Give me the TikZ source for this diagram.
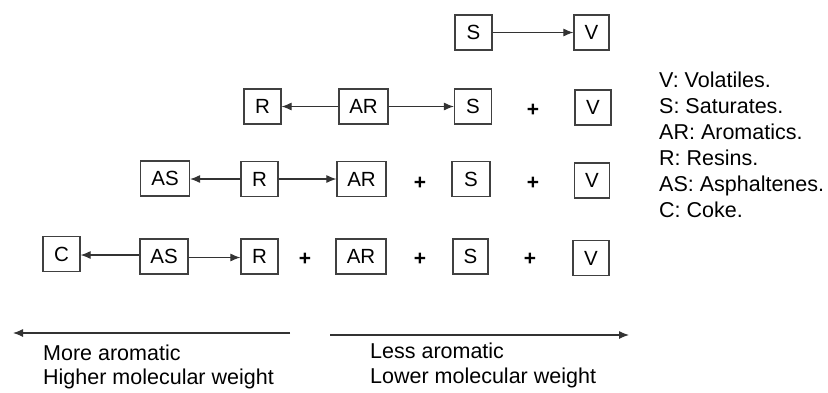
\documentclass[tikz,border=0pt]{standalone}
\usepackage{fontspec}
\setmainfont{Liberation Sans}
\usetikzlibrary{arrows.meta}
\begin{document}
\begin{tikzpicture}[x=1pt,y=-1pt,
  box/.style={draw=black!75,line width=1.2pt,inner sep=0pt,minimum height=35pt,minimum width=37pt,font=\fontsize{20.5}{24}\selectfont},
  wbox/.style={box,minimum width=49pt},
  conn/.style={draw=black!80,line width=1.1pt,-{Latex[length=10pt,width=8pt]}},
  plus/.style={inner sep=0pt,font=\fontsize{21}{24}\selectfont\bfseries},
  txt/.style={anchor=base west,inner sep=0pt,font=\fontsize{21.5}{26}\selectfont},
  scale arrow/.style={draw=black!80,line width=1.2pt,-{Latex[length=10pt,width=8pt]}}]
\useasboundingbox (0,0) rectangle (828,392);
% Row 1
\node[box] (S1) at (473.5,32.5) {S};
\node[box,minimum width=35pt] (V1) at (591.5,32.5) {V};
\draw[conn] (S1.east) -- (S1.east -| V1.west);
% Row 2
\node[box] (R2) at (262.5,106.5) {R};
\node[wbox] (AR2) at (363.5,106.5) {AR};
\node[box] (S2) at (473,106.5) {S};
\node[plus] (P2a) at (533,110) {+};
\node[box,minimum width=36pt] (V2) at (593,107.5) {V};
\draw[conn] (AR2.west) -- (AR2.west -| R2.east);
\draw[conn] (AR2.east) -- (AR2.east -| S2.west);
% Row 3
\node[wbox] (AS3) at (165,178.5) {AS};
\node[box] (R3) at (259.5,179) {R};
\node[wbox] (AR3) at (361.5,179) {AR};
\node[plus] (P3a) at (420,183) {+};
\node[box,minimum width=38pt] (S3) at (471,179) {S};
\node[plus] (P3b) at (533,183) {+};
\node[box,minimum width=35pt] (V3) at (592,180.5) {V};
\draw[conn] (R3.west) -- (R3.west -| AS3.east);
\draw[conn] (R3.east) -- (R3.east -| AR3.west);
% Row 4
\node[box] (C4) at (61.5,254) {C};
\node[wbox,minimum width=48pt] (AS4) at (164,256.5) {AS};
\node[box] (R4) at (259.5,256.5) {R};
\node[plus] (P4a) at (305,259.5) {+};
\node[wbox,minimum width=50pt] (AR4) at (361,256.5) {AR};
\node[plus] (P4b) at (420,259.5) {+};
\node[box,minimum width=35pt] (S4) at (470.5,256.5) {S};
\node[plus] (P4c) at (530,259.5) {+};
\node[box,minimum width=36pt] (V4) at (591,258) {V};
\draw[conn] ([yshift=1.5pt]AS4.west) -- ([yshift=1.5pt]AS4.west -| C4.east);
\draw[conn] ([yshift=-1pt]AS4.east) -- ([yshift=-1pt]AS4.east -| R4.west);
% Bottom scale arrows
\coordinate (La) at (290,333);
\coordinate (Lb) at (13,333);
\coordinate (Ra) at (330,335);
\coordinate (Rb) at (629,335);
\draw[scale arrow] (La) -- (Lb);
\draw[scale arrow] (Ra) -- (Rb);
\node[txt] (M1) at (43,360) {More aromatic};
\node[txt] (M2) at (43,384) {Higher molecular weight};
\node[txt] (L1) at (370,358) {Less aromatic};
\node[txt] (L2) at (370,383) {Lower molecular weight};
% Legend
\node[txt] (G1) at (659,87) {V: Volatiles.};
\node[txt] (G2) at (659,113) {S: Saturates.};
\node[txt] (G3) at (659,139) {AR: Aromatics.};
\node[txt] (G4) at (659,165) {R: Resins.};
\node[txt] (G5) at (659,191) {AS: Asphaltenes.};
\node[txt] (G6) at (659,217) {C: Coke.};
\end{tikzpicture}
\end{document}
